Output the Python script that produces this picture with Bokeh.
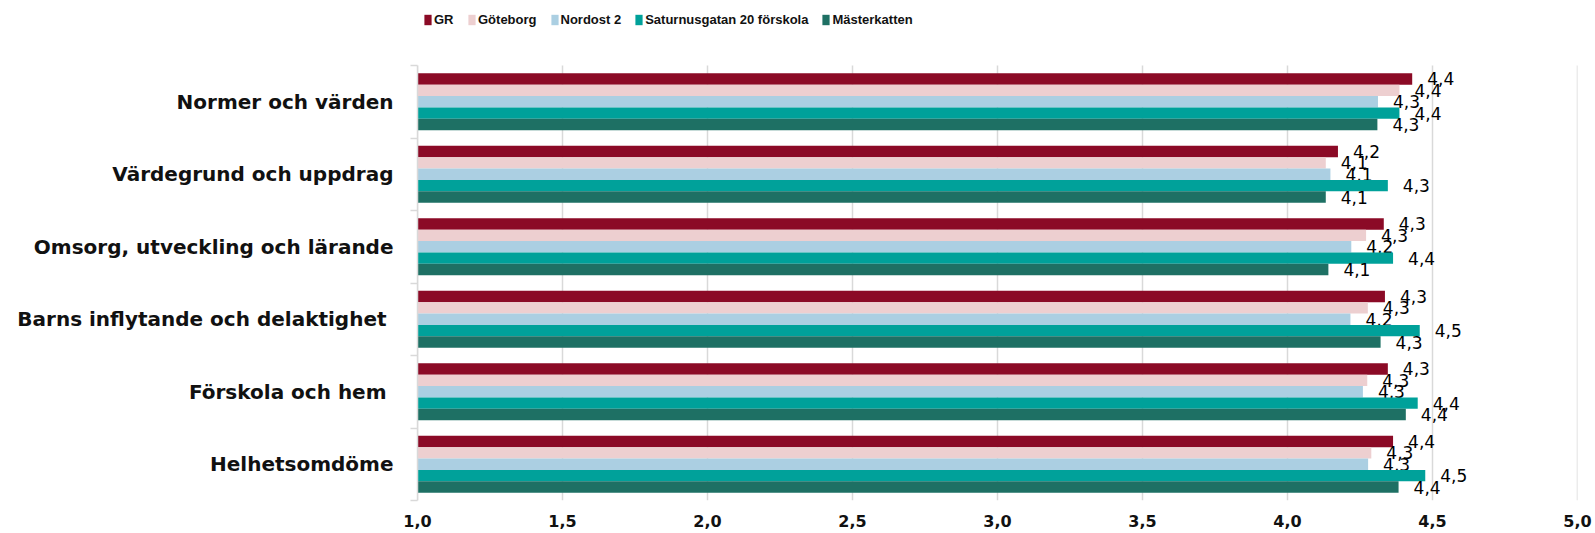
from bokeh.plotting import figure
from bokeh.models import (Range1d, LinearAxis, FixedTicker, Legend,
                          LegendItem, ColumnDataSource)
from bokeh.core.properties import value
from bokeh.embed import file_html
from bokeh.resources import INLINE

# ---------------- data ----------------
categories = [
    "Normer och värden",
    "Värdegrund och uppdrag",
    "Omsorg, utveckling och lärande",
    "Barns inflytande och delaktighet ",
    "Förskola och hem ",
    "Helhetsomdöme",
]
series_names = ["GR", "Göteborg", "Nordost 2", "Saturnusgatan 20 förskola", "Mästerkatten"]
gr = [4.43, 4.174, 4.332, 4.336, 4.346, 4.364]
goteborg = [4.386, 4.132, 4.271, 4.277, 4.275, 4.289]
nordost = [4.312, 4.148, 4.22, 4.217, 4.26, 4.278]
saturnus = [4.386, 4.346, 4.364, 4.456, 4.449, 4.475]
masterkatten = [4.31, 4.132, 4.141, 4.321, 4.408, 4.383]
colors = ["#8B0A26", "#EDCFD0", "#ABCFE2", "#00A19A", "#1E7064"]
x_ticks = [1.0, 1.5, 2.0, 2.5, 3.0, 3.5, 4.0, 4.5, 5.0]
x_tick_labels = ["1,0", "1,5", "2,0", "2,5", "3,0", "3,5", "4,0", "4,5", "5,0"]

series_values = [gr, goteborg, nordost, saturnus, masterkatten]

# ---------------- layout ----------------
W, H = 1595, 533
bottom, left, right = 33, 417, 18
frame_h = H - bottom          # plot frame runs from the top of the page
bars_top_px = 65              # room above the bars for the legend
n = len(categories)
y_end = n * frame_h / (frame_h - bars_top_px)
bar_h = 0.157

centres = [n - 0.5 - j for j in range(n)]
bounds = [float(j) for j in range(n + 1)]

p = figure(width=W, height=H, output_backend="svg", toolbar_location=None,
           y_range=Range1d(0, y_end),
           x_range=Range1d(x_ticks[0], x_ticks[-1]),
           x_axis_type=None, y_axis_type=None,
           min_border_top=0, min_border_bottom=bottom,
           min_border_left=left, min_border_right=right)
p.outline_line_color = None
p.background_fill_color = "white"
p.border_fill_color = "white"
p.xgrid.visible = False
p.ygrid.visible = False

# x axis
xax = LinearAxis(ticker=FixedTicker(ticks=x_ticks))
xax.major_label_overrides = {t: l for t, l in zip(x_ticks, x_tick_labels)}
xax.axis_line_color = None
xax.major_tick_line_color = None
xax.minor_tick_line_color = None
xax.major_tick_out = 0
xax.major_label_standoff = 14
xax.major_label_text_font = "DejaVu Sans"
xax.major_label_text_font_style = "bold"
xax.major_label_text_font_size = "16px"
xax.major_label_text_color = "#111111"
p.add_layout(xax, "below")

# y axis (category labels at centres, ticks at boundaries)
yax = LinearAxis(ticker=FixedTicker(ticks=centres, minor_ticks=bounds))
yax.bounds = (0, n)
yax.major_label_overrides = {c: cat for c, cat in zip(centres, categories)}
yax.axis_line_color = "#D9D9D9"
yax.axis_line_width = 1.5
yax.major_tick_line_color = None
yax.major_tick_out = 0
yax.major_tick_in = 0
yax.minor_tick_line_color = "#D9D9D9"
yax.minor_tick_line_width = 1.5
yax.minor_tick_out = 7
yax.minor_tick_in = 0
yax.major_label_standoff = 17
yax.major_label_text_font = "DejaVu Sans"
yax.major_label_text_font_style = "bold"
yax.major_label_text_font_size = "20px"
yax.major_label_text_color = "#111111"
p.add_layout(yax, "left")

# vertical gridlines, limited to the category area
p.segment(x0=x_ticks, x1=x_ticks, y0=[0] * len(x_ticks), y1=[n] * len(x_ticks),
          line_color="#D9D9D9", line_width=1.5)

# bars and value labels
items = []
for i, (vals, name, col) in enumerate(zip(series_values, series_names, colors)):
    off = (2 - i) * bar_h
    src = ColumnDataSource(dict(
        y=[c + off for c in centres],
        v=vals,
        lbl=[("%.1f" % v).replace(".", ",") for v in vals],
    ))
    r = p.hbar(y="y", left=x_ticks[0], right="v", height=bar_h, source=src,
               fill_color=col, line_color=None)
    items.append(LegendItem(label=name, renderers=[r]))
    p.text(x="v", y="y", text="lbl", source=src,
           x_offset=15, text_baseline="middle", text_align="left",
           text_font=value("DejaVu Sans"), text_font_size="17px", text_color="#000000")

legend = Legend(items=items, orientation="horizontal", location=(6, frame_h - 28),
                glyph_width=9, glyph_height=13, label_standoff=2, spacing=13,
                padding=0, margin=0, label_height=18,
                border_line_color=None, background_fill_alpha=0,
                label_text_font="Liberation Sans",
                label_text_font_style="bold", label_text_font_size="13px",
                label_text_color="#111111")
p.add_layout(legend, "center")

open("out.html", "w").write(file_html(p, INLINE))
